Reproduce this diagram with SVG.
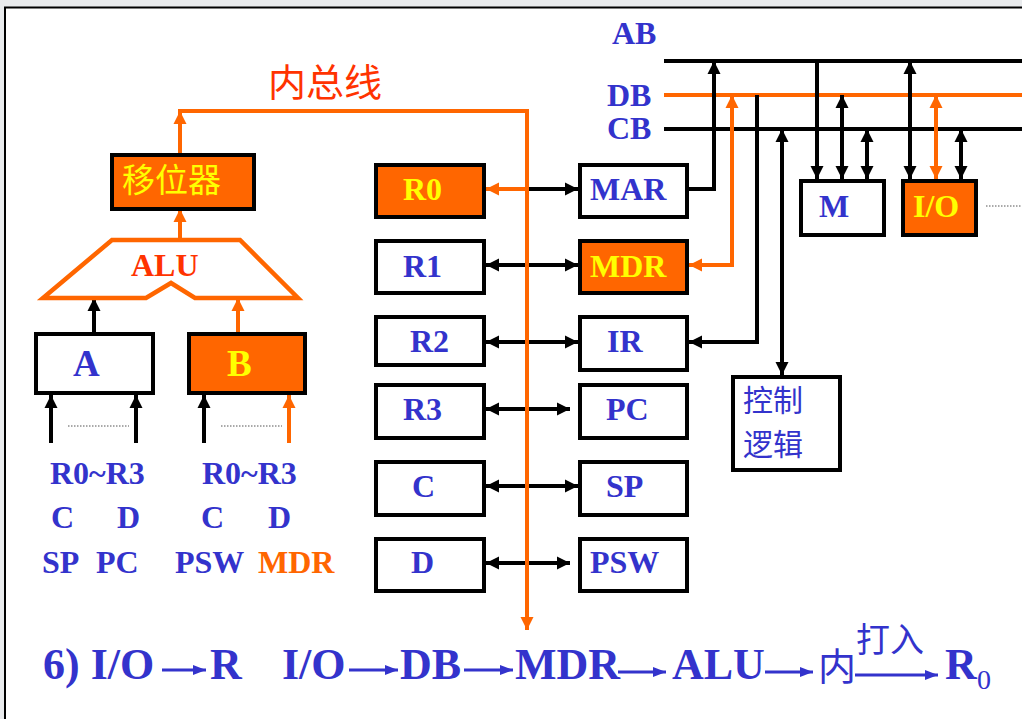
<svg xmlns="http://www.w3.org/2000/svg" width="1022" height="719" viewBox="0 0 1022 719">
<defs>
<marker id="ab" markerUnits="userSpaceOnUse" markerWidth="14" markerHeight="14" refX="13" refY="7" orient="auto-start-reverse" viewBox="0 0 14 14"><path d="M0,0.5 L13,7 L0,13.5 z" fill="#000"/></marker>
<marker id="ao" markerUnits="userSpaceOnUse" markerWidth="14" markerHeight="14" refX="13" refY="7" orient="auto-start-reverse" viewBox="0 0 14 14"><path d="M0,0.5 L13,7 L0,13.5 z" fill="#FF6600"/></marker>
<marker id="au" markerUnits="userSpaceOnUse" markerWidth="14" markerHeight="12" refX="13" refY="6" orient="auto" viewBox="0 0 14 12"><path d="M0,1 L13,6 L0,11 z" fill="#3333CC"/></marker>
<style>
.bx{fill:#fff;stroke:#000;stroke-width:4}
.bo{fill:#FF6600;stroke:#000;stroke-width:4}
.t{font-family:"Liberation Serif","Times New Roman",serif;font-weight:bold;font-size:32px;fill:#3333CC}
.y{fill:#FFFF00}
.o{fill:#FF6600}
.cn{font-family:"Noto Sans CJK SC","Noto Sans",sans-serif;font-weight:normal}
.k{fill:none;stroke:#000;stroke-width:4}
.ok{fill:none;stroke:#FF6600;stroke-width:4}
.bl{fill:none;stroke:#3333CC;stroke-width:3}
.dot{stroke:#555;stroke-width:1;stroke-dasharray:1.5,1.5;fill:none}
.f{font-family:"Liberation Serif","Times New Roman",serif;font-weight:bold;font-size:44px;fill:#3333CC}
</style>
</defs>
<rect x="0" y="0" width="1022" height="719" fill="#fff"/>
<rect x="0" y="0" width="1022" height="7" fill="#E9EBED"/>
<rect x="0" y="0" width="4" height="719" fill="#E9EBED"/>
<path d="M5,719 V7.5 H1022" fill="none" stroke="#000" stroke-width="2"/>

<g id="connectors">
<path class="k" d="M527,189 H578" marker-end="url(#ab)"/>
<path class="k" d="M486,265 H578" marker-start="url(#ab)" marker-end="url(#ab)"/>
<path class="k" d="M486,342 H578" marker-start="url(#ab)" marker-end="url(#ab)"/>
<path class="k" d="M486,409 H570" marker-start="url(#ab)" marker-end="url(#ab)"/>
<path class="k" d="M486,486 H578" marker-start="url(#ab)" marker-end="url(#ab)"/>
<path class="k" d="M486,563 H570" marker-start="url(#ab)" marker-end="url(#ab)"/>
<path class="ok" d="M527,189 H486" marker-end="url(#ao)"/>
<path class="ok" d="M180,155 V111" marker-end="url(#ao)"/>
<path class="ok" d="M178,111 H527 V630" marker-end="url(#ao)"/>
<path class="ok" d="M180,240 V209" marker-end="url(#ao)"/>
<path class="k" d="M94,333 V298" marker-end="url(#ab)"/>
<path class="ok" d="M238,333 V298" marker-end="url(#ao)"/>
<path class="k" d="M51,443 V395" marker-end="url(#ab)"/>
<path class="k" d="M136,443 V395" marker-end="url(#ab)"/>
<path class="k" d="M204,443 V395" marker-end="url(#ab)"/>
<path class="ok" d="M289,443 V395" marker-end="url(#ao)"/>
<path class="dot" d="M68,426 H129"/>
<path class="dot" d="M221,426 H282"/>
<path class="k" d="M664,61 H1022"/>
<path class="ok" d="M664,95 H1022"/>
<path class="k" d="M664,129 H1022"/>
<path class="k" d="M689,189 H714 V61" marker-end="url(#ab)"/>
<path class="ok" d="M732,95 V265 H689" marker-start="url(#ao)" marker-end="url(#ao)"/>
<path class="k" d="M757,95 V342 H689" marker-end="url(#ab)"/>
<path class="k" d="M782,129 V375" marker-start="url(#ab)" marker-end="url(#ab)"/>
<path class="k" d="M817,61 V179" marker-end="url(#ab)"/>
<path class="k" d="M842,95 V179" marker-start="url(#ab)" marker-end="url(#ab)"/>
<path class="k" d="M867,129 V179" marker-start="url(#ab)" marker-end="url(#ab)"/>
<path class="k" d="M910,61 V179" marker-start="url(#ab)" marker-end="url(#ab)"/>
<path class="ok" d="M936,95 V179" marker-start="url(#ao)" marker-end="url(#ao)"/>
<path class="k" d="M961,129 V179" marker-start="url(#ab)" marker-end="url(#ab)"/>
<path class="dot" d="M986,206 H1022"/>
</g>

<text x="268" y="96" class="cn" font-size="38" fill="#FF3300">内总线</text>

<g id="shifter"><rect class="bo" x="112" y="155" width="142" height="54"/><text x="122" y="192" class="cn" font-size="33" fill="#FFFF00">移位器</text></g>
<g id="alu"><polygon points="112,240 240,240 298,298 195,298 171,283 146,298 43,298" fill="#fff" stroke="#FF6600" stroke-width="4.5" stroke-linejoin="miter"/><text x="131" y="276" class="t" style="fill:#FF3300">ALU</text></g>
<g id="regA"><rect class="bx" x="36" y="334" width="117" height="59"/><text x="73" y="376" class="t" style="font-size:37px">A</text></g>
<g id="regB"><rect class="bo" x="189" y="334" width="116" height="59"/><text x="227" y="376" class="t y" style="font-size:37px">B</text></g>

<g id="srcA">
<text x="50" y="484" class="t">R0~R3</text>
<text x="51" y="528" class="t">C</text><text x="117" y="528" class="t">D</text>
<text x="42" y="573" class="t">SP</text><text x="96" y="573" class="t">PC</text>
</g>
<g id="srcB">
<text x="202" y="484" class="t">R0~R3</text>
<text x="201" y="528" class="t">C</text><text x="268" y="528" class="t">D</text>
<text x="175" y="573" class="t">PSW</text><text x="258" y="573" class="t o">MDR</text>
</g>

<g id="R0"><rect class="bo" x="376" y="165" width="108" height="52"/><text x="403" y="200" class="t y">R0</text></g>
<g id="R1"><rect class="bx" x="376" y="241" width="108" height="52"/><text x="403" y="277" class="t">R1</text></g>
<g id="R2"><rect class="bx" x="376" y="317" width="108" height="48"/><text x="410" y="352" class="t">R2</text></g>
<g id="R3"><rect class="bx" x="376" y="385" width="108" height="53"/><text x="403" y="420" class="t">R3</text></g>
<g id="C"><rect class="bx" x="376" y="462" width="108" height="53"/><text x="412" y="497" class="t">C</text></g>
<g id="D"><rect class="bx" x="376" y="539" width="108" height="52"/><text x="411" y="573" class="t">D</text></g>

<g id="MAR"><rect class="bx" x="580" y="165" width="107" height="52"/><text x="590" y="200" class="t">MAR</text></g>
<g id="MDR"><rect class="bo" x="580" y="241" width="107" height="52"/><text x="590" y="277" class="t y">MDR</text></g>
<g id="IR"><rect class="bx" x="580" y="317" width="107" height="53"/><text x="607" y="352" class="t">IR</text></g>
<g id="PC"><rect class="bx" x="580" y="385" width="107" height="53"/><text x="606" y="420" class="t">PC</text></g>
<g id="SP"><rect class="bx" x="580" y="462" width="107" height="53"/><text x="606" y="497" class="t">SP</text></g>
<g id="PSW"><rect class="bx" x="580" y="539" width="107" height="52"/><text x="590" y="573" class="t">PSW</text></g>

<g id="buslabels">
<text x="612" y="44" class="t">AB</text>
<text x="607" y="106" class="t">DB</text>
<text x="607" y="139" class="t">CB</text>
</g>
<g id="M"><rect class="bx" x="801" y="181" width="83" height="54"/><text x="819" y="217" class="t">M</text></g>
<g id="IO"><rect class="bo" x="903" y="181" width="73" height="54"/><text x="913" y="217" class="t y">I/O</text></g>
<g id="ctrl"><rect class="bx" x="733" y="377" width="107" height="93"/>
<text x="743" y="411" class="cn" font-size="30" fill="#3333CC">控制</text>
<text x="743" y="455" class="cn" font-size="30" fill="#3333CC">逻辑</text></g>

<g id="formula">
<text x="43" y="679" class="f">6) I/O</text>
<path class="bl" d="M162,670 H206" marker-end="url(#au)"/>
<text x="210" y="679" class="f">R</text>
<text x="282" y="679" class="f">I/O</text>
<path class="bl" d="M349,670 H398" marker-end="url(#au)"/>
<text x="400" y="679" class="f">DB</text>
<path class="bl" d="M464,670 H513" marker-end="url(#au)"/>
<text x="515" y="679" class="f">MDR</text>
<path class="bl" d="M618,672 H666" marker-end="url(#au)"/>
<text x="672" y="679" class="f">ALU</text>
<path class="bl" d="M765,672 H813" marker-end="url(#au)"/>
<text x="818" y="680" class="cn" font-size="38" fill="#3333CC">内</text>
<text x="856" y="652" class="cn" font-size="34" fill="#3333CC">打入</text>
<path class="bl" d="M855,675 H938" marker-end="url(#au)"/>
<text x="945" y="679" class="f">R</text>
<text x="977" y="689" font-family="Liberation Serif, serif" font-size="28" fill="#3333CC">0</text>
</g>
</svg>
